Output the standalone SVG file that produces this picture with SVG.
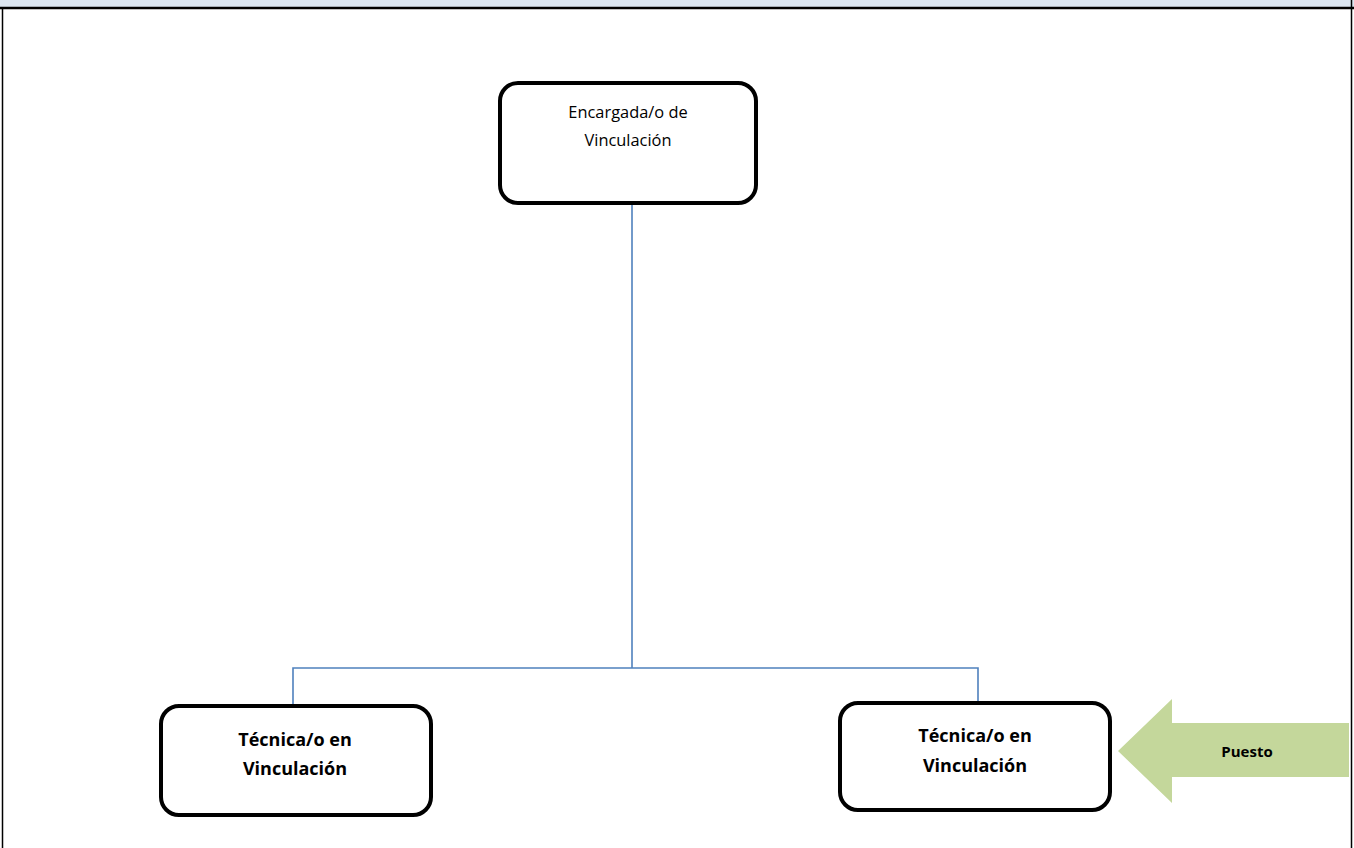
<svg xmlns="http://www.w3.org/2000/svg" width="1354" height="848" viewBox="0 0 1354 848">
<style>
.box{fill:#fff;stroke:#000;stroke-width:4}
.conn{fill:none;stroke:#4f81bd;stroke-width:1.6}
.t{font-family:"Open Sans","Liberation Sans",sans-serif;text-anchor:middle;fill:#000}
.r{font-size:16.4px}
.b{font-size:18px;font-weight:bold}
</style>
<rect x="0" y="0" width="1354" height="848" fill="#fff"/>
<rect x="0" y="0" width="1354" height="7" fill="#dce6f1"/>
<line x1="0" y1="8" x2="1354" y2="8" stroke="#000" stroke-width="2.5"/>
<line x1="2.5" y1="8" x2="2.5" y2="848" stroke="#000" stroke-width="1.5"/>
<line x1="1351.5" y1="0" x2="1351.5" y2="848" stroke="#000" stroke-width="1.5"/>
<g id="connectors">
<path class="conn" d="M632 203 V668"/>
<path class="conn" d="M293 705 V668 H978 V702"/>
</g>
<g id="n1">
<rect class="box" x="500" y="83" width="256" height="120" rx="18"/>
<text class="t r" x="628" y="118">Encargada/o de</text>
<text class="t r" x="628" y="146">Vinculación</text>
</g>
<g id="n2">
<rect class="box" x="161" y="706" width="270" height="109" rx="18"/>
<text class="t b" x="295" y="746">Técnica/o en</text>
<text class="t b" x="295" y="775">Vinculación</text>
</g>
<g id="n3">
<rect class="box" x="840" y="703" width="270" height="107" rx="18"/>
<text class="t b" x="975" y="742">Técnica/o en</text>
<text class="t b" x="975" y="772">Vinculación</text>
</g>
<g id="puesto">
<polygon points="1118,751 1172,699 1172,723 1349,723 1349,777 1172,777 1172,803" fill="#c4d79b"/>
<text class="t" x="1247" y="757" style="font-size:15px;font-weight:bold">Puesto</text>
</g>
</svg>
